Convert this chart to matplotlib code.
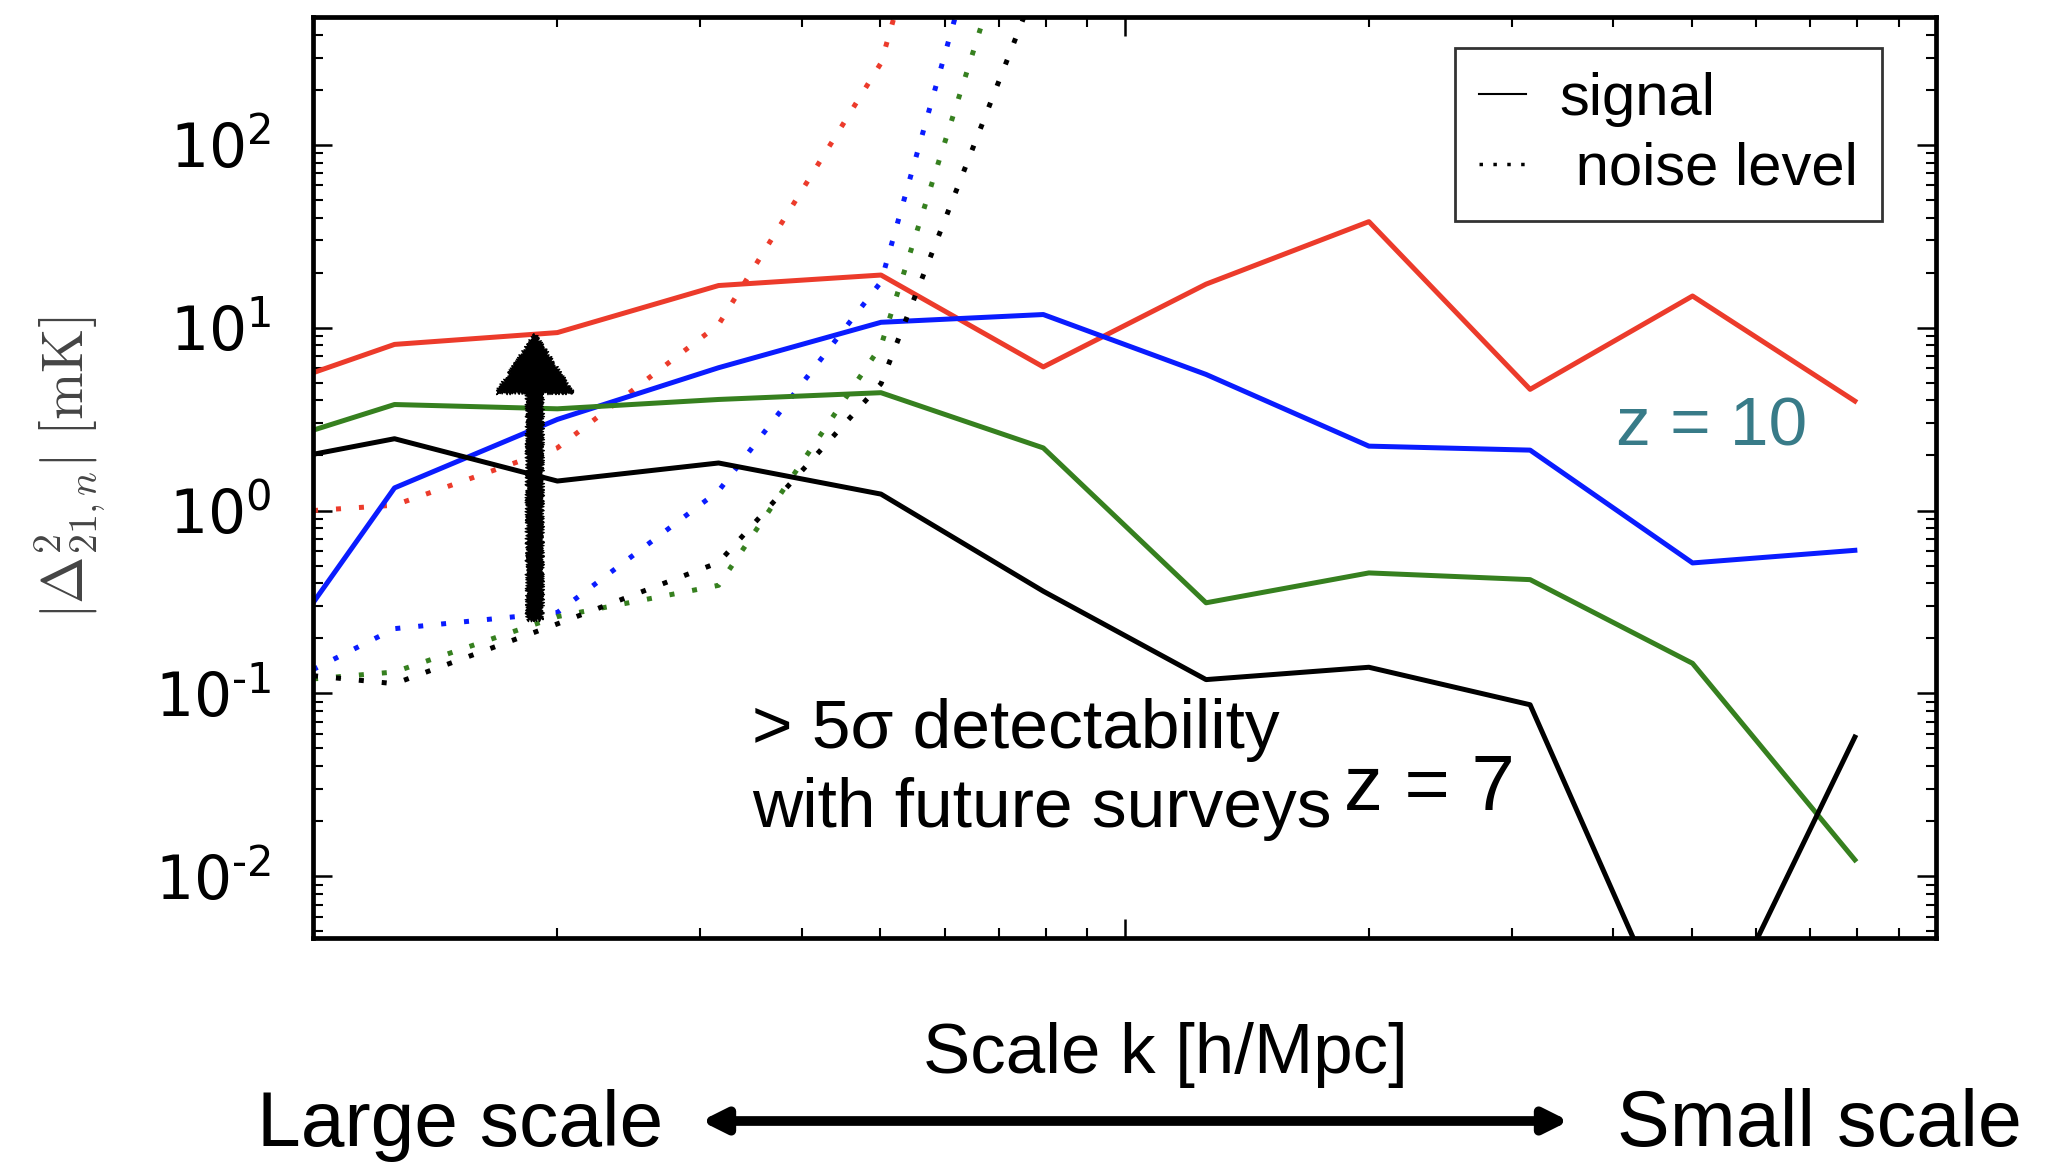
import matplotlib
matplotlib.use('Agg')
import matplotlib.pyplot as plt
from matplotlib.lines import Line2D
from matplotlib.patches import FancyArrowPatch
from matplotlib.ticker import FuncFormatter

# k bins [h/Mpc], first one sits on the left edge of the axis
k = [0.01, 0.0126, 0.02, 0.0316, 0.0501, 0.0794, 0.126, 0.2, 0.316, 0.501, 0.794]

# signal |Delta^2_21| [mK]
signal_red = [5.67, 8.1, 9.4, 17.0, 19.4, 6.1, 17.3, 38.0, 4.6, 14.9, 3.97]
signal_blue = [0.313, 1.33, 3.15, 6.04, 10.7, 11.8, 5.55, 2.25, 2.14, 0.517, 0.606]
signal_green = [2.75, 3.80, 3.60, 4.05, 4.41, 2.20, 0.313, 0.456, 0.419, 0.146, 0.0123]
signal_black = [2.03, 2.47, 1.45, 1.82, 1.23, 0.362, 0.119, 0.139, 0.0867, 0.00085, 0.0577]

# noise level (only the first bins are inside the plot)
noise_red = [1.0, 1.07, 2.2, 10.4, 280, 3.6e5]
noise_blue = [0.135, 0.226, 0.277, 1.28, 17.8, 2.6e4]
noise_green = [0.12, 0.131, 0.263, 0.39, 7.96, 5.4e3]
noise_black = [0.125, 0.113, 0.24, 0.52, 4.94, 935]

# detectability arrow
arrow_k = 0.01876
arrow_lo = 0.253
arrow_hi = 9.2

red = '#ec3b2b'
blue = '#0a1cff'
green = '#36801f'
teal = '#387b88'
dots = (0, (1, 3.6))

fig = plt.figure(figsize=(20.65, 11.63), dpi=100)
ax = fig.add_axes([0.1516, 0.1935, 0.786, 0.7919])

for sig, noise, col in [(signal_red, noise_red, red),
                        (signal_blue, noise_blue, blue),
                        (signal_green, noise_green, green),
                        (signal_black, noise_black, 'black')]:
    ax.plot(k, sig, color=col, lw=3.6)
    ax.plot(k[:len(noise)], noise, color=col, lw=3.6, linestyle=dots)

ax.set_xscale('log')
ax.set_yscale('log')
ax.set_xlim(0.01, 1)
ax.set_ylim(0.0046, 500)


def ylab(v, pos):
    e = int(round(__import__('math').log10(v)))
    if e < 0:
        return r'$10^{\text{-}%d}$' % (-e)
    return r'$10^{%d}$' % e


ax.yaxis.set_major_formatter(FuncFormatter(ylab))
ax.tick_params(which='both', direction='in', top=True, right=True, labelbottom=False)
ax.tick_params(which='major', length=14, width=1.8, labelsize=43, pad=30)
ax.tick_params(which='minor', length=7, width=1.5)
for s in ax.spines.values():
    s.set_linewidth(3.4)

ax.set_ylabel(r'$|\Delta^2_{21,n}|\ [\mathrm{mK}]$', fontsize=41, color='#444444',
              math_fontfamily='cm')
ax.yaxis.set_label_coords(-0.1263, 0.51)

# legend
handles = [Line2D([], [], color='black', lw=1.5),
           Line2D([], [], color='black', lw=2.5, linestyle=(0, (1, 3)))]
fig.legend(handles, ['signal', ' noise level'], loc='upper right',
           bbox_to_anchor=(1882 / 2065, 1 - 48 / 1163), bbox_transform=fig.transFigure,
           prop={'family': 'Liberation Sans', 'size': 43}, frameon=True, fancybox=False,
           edgecolor='black', handlelength=0.8, handletextpad=0.55, borderpad=0.4,
           labelspacing=0.25, borderaxespad=0)
fig.legends[0].get_frame().set_linewidth(2)

# arrow showing detectability (rough hand-drawn look)
ann = ax.annotate('', xy=(arrow_k, arrow_hi), xytext=(arrow_k, arrow_lo),
                  arrowprops=dict(arrowstyle='simple,head_length=0.42,head_width=0.55,tail_width=0.11',
                                  mutation_scale=100, color='black', shrinkA=0, shrinkB=0))
ann.arrow_patch.set_sketch_params(2, 3, 2)

txt = dict(family='Liberation Sans', va='baseline', ha='left')
fig.text(752 / 2065, 1 - 748 / 1163, '> 5σ detectability', fontsize=50, **txt)
fig.text(752 / 2065, 1 - 827 / 1163, 'with future surveys', fontsize=50, **txt)
fig.text(1344 / 2065, 1 - 810 / 1163, 'z = 7', fontsize=56, **txt)
fig.text(1616 / 2065, 1 - 445 / 1163, 'z = 10', fontsize=50, color=teal, **txt)

# x axis description
fig.text(1165 / 2065, 1 - 1073 / 1163, 'Scale k [h/Mpc]', fontsize=51,
         family='Liberation Sans', ha='center', va='baseline')
fig.text(257 / 2065, 1 - 1146 / 1163, 'Large scale', fontsize=56.5, **txt)
fig.text(1617 / 2065, 1 - 1146 / 1163, 'Small scale', fontsize=57, **txt)
fig.patches.append(FancyArrowPatch((701 / 2065, 1 - 1121 / 1163), (1569 / 2065, 1 - 1121 / 1163),
                                   transform=fig.transFigure, figure=fig,
                                   arrowstyle='<|-|>,head_length=1.4,head_width=0.7',
                                   mutation_scale=10, lw=7, color='black',
                                   shrinkA=0, shrinkB=0))

fig.savefig('out.png', dpi=100)
